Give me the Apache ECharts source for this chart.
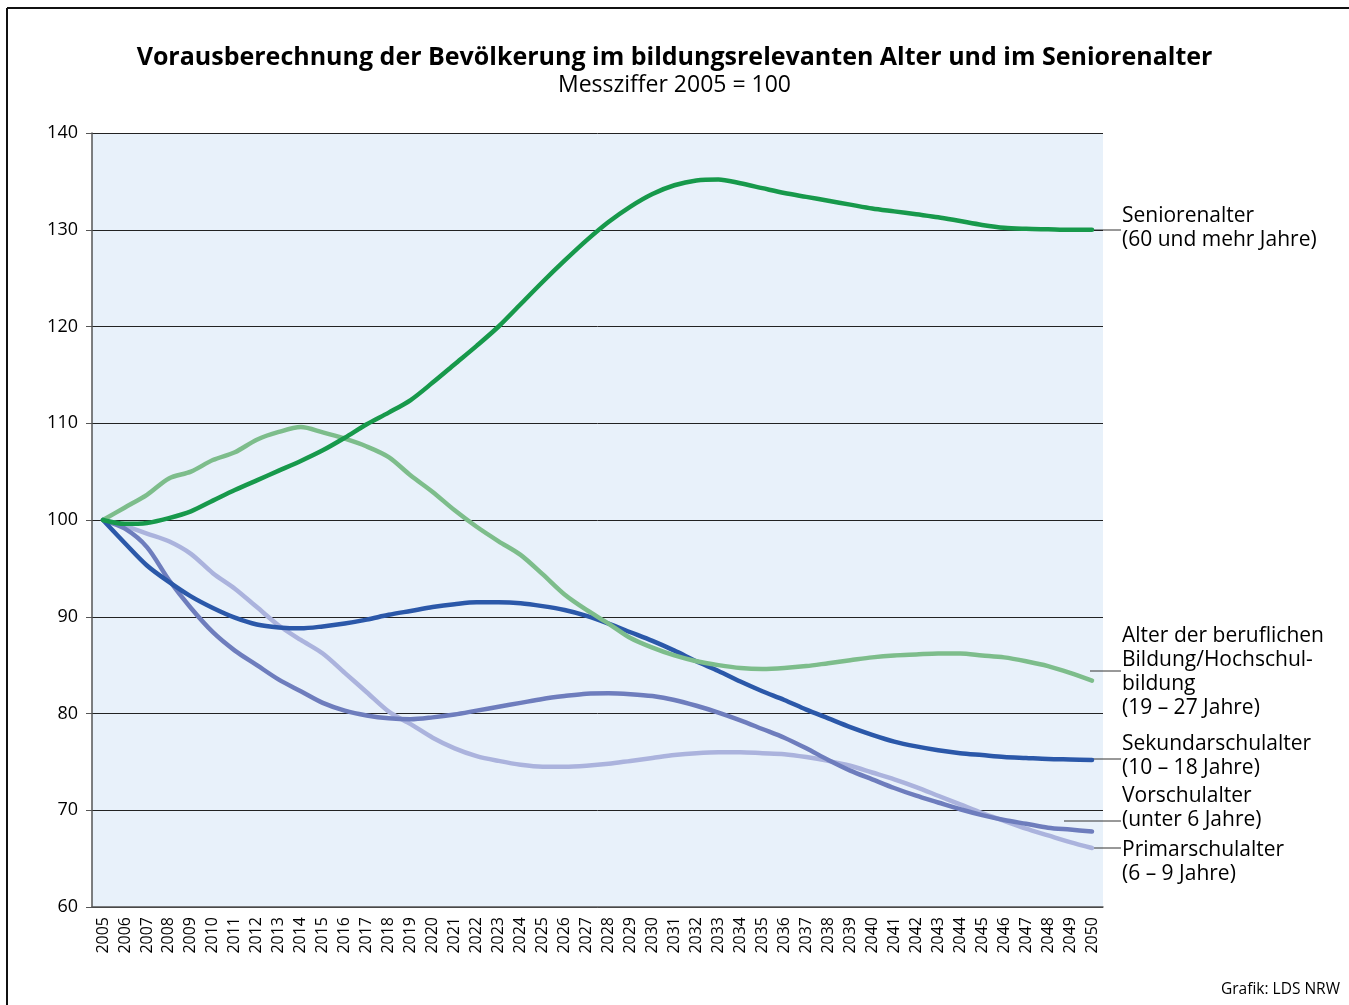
<!DOCTYPE html>
<html>
<head>
<meta charset="utf-8">
<script src="https://cdn.jsdelivr.net/npm/echarts@6/dist/echarts.min.js"></script>
<style>
  html, body { margin: 0; padding: 0; background: #fff; }
  #chart { width: 1349px; height: 1005px; }
</style>
</head>
<body>
<div id="chart"></div>
<script>
const years = [];
for (let y = 2005; y <= 2050; y++) years.push(String(y));

const yTicks = [60, 70, 80, 90, 100, 110, 120, 130, 140];

const senioren = [100, 99.6, 99.7, 100.2, 100.9, 102.0, 103.1, 104.1, 105.1, 106.1,
  107.2, 108.5, 109.9, 111.1, 112.4, 114.2, 116.1, 118.0, 120.0, 122.3,
  124.6, 126.8, 128.9, 130.8, 132.4, 133.7, 134.6, 135.1, 135.2, 134.8,
  134.3, 133.8, 133.4, 133.0, 132.6, 132.2, 131.9, 131.6, 131.3, 130.9,
  130.5, 130.2, 130.1, 130.05, 130.0, 130.0];

const beruflich = [100, 101.3, 102.6, 104.3, 105.0, 106.2, 107.0, 108.3, 109.1, 109.6,
  109.05, 108.4, 107.6, 106.5, 104.6, 102.9, 101.0, 99.3, 97.8, 96.4,
  94.4, 92.3, 90.7, 89.3, 87.8, 86.8, 86.0, 85.4, 85.0, 84.7,
  84.6, 84.7, 84.9, 85.2, 85.5, 85.8, 86.0, 86.1, 86.2, 86.2,
  86.0, 85.8, 85.4, 84.9, 84.2, 83.4];

const sekundar = [100, 97.6, 95.3, 93.6, 92.1, 90.9, 89.9, 89.2, 88.9, 88.8,
  89.0, 89.3, 89.7, 90.2, 90.6, 91.0, 91.3, 91.5, 91.5, 91.4,
  91.1, 90.7, 90.1, 89.3, 88.4, 87.5, 86.5, 85.4, 84.4, 83.3,
  82.3, 81.4, 80.4, 79.5, 78.6, 77.8, 77.1, 76.6, 76.2, 75.9,
  75.7, 75.5, 75.4, 75.3, 75.25, 75.2];

const vorschul = [100, 99.1, 97.2, 93.8, 90.9, 88.4, 86.5, 85.0, 83.5, 82.3,
  81.1, 80.3, 79.8, 79.5, 79.4, 79.6, 79.9, 80.3, 80.7, 81.1,
  81.5, 81.8, 82.05, 82.1, 82.0, 81.8, 81.4, 80.8, 80.1, 79.3,
  78.4, 77.5, 76.4, 75.2, 74.1, 73.2, 72.3, 71.5, 70.8, 70.1,
  69.5, 69.0, 68.6, 68.2, 68.0, 67.8];

const primar = [100, 99.4, 98.6, 97.8, 96.5, 94.5, 92.9, 91.0, 89.1, 87.6,
  86.2, 84.2, 82.2, 80.2, 78.9, 77.5, 76.4, 75.6, 75.1, 74.7,
  74.5, 74.5, 74.6, 74.8, 75.1, 75.4, 75.7, 75.9, 76.0, 76.0,
  75.9, 75.8, 75.5, 75.1, 74.6, 73.9, 73.2, 72.4, 71.5, 70.6,
  69.7, 68.9, 68.1, 67.4, 66.7, 66.1];

const seriesNames = ['Seniorenalter', 'Alter der beruflichen Bildung/Hochschulbildung',
  'Sekundarschulalter', 'Vorschulalter', 'Primarschulalter'];
const seriesColors = ['#17994b', '#7dbd8b', '#2b58a9', '#6e7dbd', '#abb3dd'];
const seriesData = [senioren, beruflich, sekundar, vorschul, primar];

const labelLines = [
  ['Seniorenalter', '(60 und mehr Jahre)'],
  ['Alter der beruflichen', 'Bildung/Hochschul-', 'bildung', '(19 – 27 Jahre)'],
  ['Sekundarschulalter', '(10 – 18 Jahre)'],
  ['Vorschulalter', '(unter 6 Jahre)'],
  ['Primarschulalter', '(6 – 9 Jahre)']
];

const font = '"Open Sans", "Noto Sans", sans-serif';
const chart = echarts.init(document.getElementById('chart'));

// label text blocks and leader lines on the right
const labelTop = [204, 624, 732, 784, 838];
const leaders = [[1092, 230], [1090, 671], [1090, 759], [1064, 821], [1092, 848]];
const graphics = [
  { type: 'line', shape: { x1: 7, y1: 8, x2: 1349, y2: 8 }, style: { stroke: '#111', lineWidth: 2 } },
  { type: 'line', shape: { x1: 7, y1: 8, x2: 7, y2: 1005 }, style: { stroke: '#111', lineWidth: 2 } },
  {
    type: 'text', right: 9, top: 982,
    style: { text: 'Grafik: LDS NRW', font: '15.5px ' + font, fill: '#000' }
  }
];
labelLines.forEach((lines, i) => {
  graphics.push({
    type: 'text', left: 1122, top: labelTop[i],
    style: { text: lines.join('\n'), font: '21px ' + font, fill: '#000', lineHeight: 24 }
  });
  graphics.push({
    type: 'line',
    shape: { x1: leaders[i][0], y1: leaders[i][1], x2: 1121, y2: leaders[i][1] },
    style: { stroke: '#333', lineWidth: 1 }
  });
});

chart.setOption({
  animation: false,
  backgroundColor: '#fff',
  title: {
    text: 'Vorausberechnung der Bevölkerung im bildungsrelevanten Alter und im Seniorenalter',
    subtext: 'Messziffer 2005 = 100',
    left: 'center',
    top: 40,
    itemGap: 4,
    textStyle: { fontFamily: font, fontWeight: 'bold', fontSize: 25, color: '#000' },
    subtextStyle: { fontFamily: font, fontSize: 23, color: '#000' }
  },
  grid: {
    left: 92, top: 133, width: 1011, height: 774,
    show: true, backgroundColor: '#e8f1fa', borderWidth: 0
  },
  xAxis: {
    type: 'category',
    data: years,
    boundaryGap: true,
    axisLine: { lineStyle: { color: '#555', width: 1.5 } },
    axisTick: { show: false },
    axisLabel: {
      rotate: 90, interval: 0, fontSize: 16, fontFamily: font, color: '#000', margin: 10
    }
  },
  yAxis: {
    type: 'value',
    min: yTicks[0], max: yTicks[yTicks.length - 1], interval: 10,
    axisLine: { show: true, lineStyle: { color: '#555', width: 1.5 } },
    axisTick: { show: true, length: 6, lineStyle: { color: '#555' } },
    axisLabel: { fontSize: 18, fontFamily: font, color: '#000', margin: 14 },
    splitLine: { lineStyle: { color: '#222', width: 1 } }
  },
  series: seriesData.map((d, i) => ({
    name: seriesNames[i],
    type: 'line',
    data: d,
    smooth: 0.3,
    symbol: 'none',
    z: 10 - i,
    lineStyle: { color: seriesColors[i], width: 4.5, cap: 'round' }
  })),
  graphic: graphics
});
</script>
</body>
</html>
